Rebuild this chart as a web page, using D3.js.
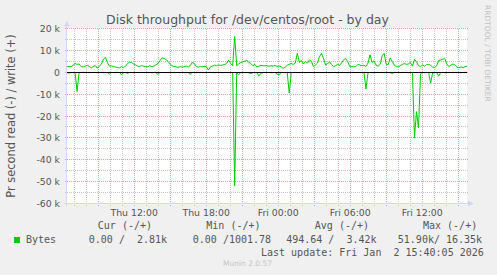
<!DOCTYPE html>
<html><head><meta charset="utf-8">
<script src="https://cdn.jsdelivr.net/npm/d3@7"></script>
<style>
html,body{margin:0;padding:0;background:#f0f0f0;}
svg{display:block;}
text{white-space:pre;}
</style></head><body>
<svg id="c" width="497" height="275"></svg>
<script>
// ---- data (kB/s), one sample per ~10 min over the 33h20m window ----
const writeK = [
2.5,2.6,2.5,3.2,4.0,3.6,3.8,2.6,2.4,2.8,
3.2,2.7,2.0,2.6,3.1,1.8,2.8,3.6,5.8,6.8,
4.5,2.8,2.9,2.6,2.4,2.2,2.0,2.6,2.1,2.8,
4.0,4.6,4.4,3.8,3.3,2.8,2.6,3.1,2.7,2.6,
2.5,3.0,2.6,2.8,3.4,4.0,5.2,6.6,6.3,5.8,
5.0,3.8,3.0,2.6,2.5,2.2,2.6,2.3,2.5,2.8,
2.4,3.0,4.5,4.0,2.6,2.4,2.6,2.5,2.7,2.6,
1.0,2.4,2.8,3.2,3.0,3.4,3.1,3.3,3.6,3.9,
5.6,4.0,3.0,16.35,3.0,3.8,4.4,4.8,5.0,5.4,
4.6,4.0,3.0,3.6,2.4,2.8,3.2,2.9,3.0,3.0,
2.7,3.0,2.8,3.1,2.7,2.9,2.5,1.8,2.3,3.2,
3.6,4.0,3.6,4.2,8.6,4.5,5.4,3.8,5.0,4.2,
5.6,5.0,2.6,3.3,4.2,7.2,8.6,6.2,3.3,4.0,
4.8,3.5,2.6,3.0,3.6,3.2,4.4,5.8,6.2,4.8,
2.6,2.5,2.5,2.6,3.6,3.3,3.0,3.2,2.6,4.2,
8.0,4.5,5.2,3.2,2.8,3.6,7.5,8.6,3.6,3.5,
6.5,5.0,3.2,2.6,2.5,3.0,3.6,4.0,3.6,3.8,
4.5,2.8,5.9,4.8,3.0,2.6,3.4,2.7,3.6,3.6,
3.2,2.4,2.1,3.0,5.4,5.6,6.0,6.2,3.8,2.6,
3.2,3.8,3.3,2.4,2.0,2.5,2.1,2.5,2.81
];
const readK = [
0.1,0.4,0.1,0.1,0.2,8.8,0.1,0.1,0.0,0.1,
0.1,0.2,0.1,0.1,0.1,0.2,0.1,0.1,0.2,0.1,
0.1,0.8,0.1,0.1,0.2,0.1,0.1,1.2,0.1,0.1,
0.5,0.1,0.1,0.2,0.1,0.1,0.1,0.1,0.2,0.1,
0.1,0.1,0.2,0.1,0.1,1.0,0.1,0.1,0.1,0.2,
0.1,0.1,0.1,0.2,0.1,0.1,0.1,0.1,0.2,0.1,
0.1,0.9,0.1,0.1,0.2,0.1,0.1,0.1,0.1,0.2,
0.1,0.1,0.1,0.2,0.1,0.1,0.1,0.2,0.1,0.1,
0.1,0.2,0.1,51.9,0.3,1.2,0.1,0.2,0.1,0.1,
0.2,0.7,0.1,0.1,0.2,1.7,0.5,0.1,0.1,0.1,
0.1,0.2,0.1,0.1,0.8,1.2,0.1,0.1,0.2,0.1,
9.5,0.2,0.1,0.1,0.2,0.1,0.1,0.1,0.2,0.1,
0.1,0.1,0.2,0.1,0.1,0.1,0.2,0.1,0.1,0.1,
0.2,0.1,0.1,0.1,0.2,0.1,0.1,0.1,0.1,0.2,
0.1,0.1,0.1,0.2,0.1,0.1,0.1,0.2,7.7,0.2,
0.1,0.1,0.2,0.1,0.1,0.1,0.2,0.1,0.1,0.1,
0.2,0.6,0.1,0.1,0.1,0.2,0.1,0.1,0.1,0.2,
0.1,0.2,30.0,18.0,25.5,0.8,0.1,0.2,0.1,0.1,
5.0,0.2,0.1,0.1,1.8,0.1,0.1,0.2,0.1,0.1,
0.1,0.2,0.1,0.1,0.1,0.2,0.1,0.1,0.0
];
const yTicks = [20000,10000,0,-10000,-20000,-30000,-40000,-50000,-60000];
const yTickLabels = ["20 k","10 k","0","-10 k","-20 k","-30 k","-40 k","-50 k","-60 k"];
const xTickLabels = ["Thu 12:00","Thu 18:00","Fri 00:00","Fri 06:00","Fri 12:00"];
const legendHeaders = ["Cur (-/+)","Min (-/+)","Avg (-/+)","Max (-/+)"];
const legendName = "Bytes";
const legendCur = "0.00 /  2.81k";
const legendMin = "0.00 /1001.78";
const legendAvg = "494.64 /  3.42k";
const legendMax = "51.90k/ 16.35k";
const titleText = "Disk throughput for /dev/centos/root - by day";
const yTitle = "Pr second read (-) / write (+)";
const lastUpdate = "Last update: Fri Jan  2 15:40:05 2026";

// ---- layout ----
const W=497,H=275;
const X0=67,X1=467,Y0=203.5,Y1=28.5;
const tStart = Date.UTC(2026,0,1,6,24,0);
const tEnd = tStart + 120000*1000;
const step = (tEnd - tStart)/(writeK.length-1);
const times = writeK.map((d,i)=>new Date(tStart + i*step));

const svg = d3.select("#c");
svg.append("rect").attr("width",W).attr("height",H).attr("fill","#f0f0f0");
svg.append("rect").attr("x",X0).attr("y",28).attr("width",X1-X0).attr("height",Y0-28).attr("fill","#ffffff");

const x = d3.scaleUtc().domain([new Date(tStart),new Date(tEnd)]).range([X0,X1]);
const y = d3.scaleLinear().domain([-60000,20000]).range([Y0,Y1]);
const px = v => Math.floor(v)+0.5;

const grid = svg.append("g").attr("shape-rendering","crispEdges").attr("stroke-width",1).attr("stroke-dasharray","1,1");
const GRAY="#c4c4c4", PINK="#e4a0a0";
d3.range(-60000,20001,5000).forEach(v=>{
  const major = v%10000===0;
  if(v===-60000) return;
  grid.append("line").attr("x1",X0-2).attr("x2",X1+2).attr("y1",px(y(v))).attr("y2",px(y(v)))
    .attr("stroke",major?PINK:GRAY);
});
d3.utcHour.range(new Date(tStart),new Date(tEnd)).forEach(t=>{
  const major = t.getUTCHours()%3===0;
  grid.append("line").attr("x1",px(x(t))).attr("x2",px(x(t))).attr("y1",Y0+2).attr("y2",28)
    .attr("stroke",major?PINK:GRAY);
});

const line = d3.line().x((d,i)=>x(times[i])).y(d=>y(d));
svg.append("path").datum(readK.map(v=>-v*1000)).attr("d",line)
  .attr("fill","none").attr("stroke","#00cc00").attr("stroke-width",1);
svg.append("line").attr("x1",X0).attr("x2",X1).attr("y1",px(y(0))).attr("y2",px(y(0)))
  .attr("stroke","#000").attr("stroke-width",1).attr("shape-rendering","crispEdges");
svg.append("path").datum(writeK.map(v=>v*1000)).attr("d",line)
  .attr("fill","none").attr("stroke","#00cc00").attr("stroke-width",1);

const AX="#cfd6f8";
svg.append("line").attr("x1",66.5).attr("x2",66.5).attr("y1",Y0+2).attr("y2",24).attr("stroke",AX).attr("shape-rendering","crispEdges");
svg.append("line").attr("x1",64).attr("x2",470).attr("y1",Y0).attr("y2",Y0).attr("stroke",AX).attr("shape-rendering","crispEdges");
svg.append("path").attr("d","M63.8,26.5L69.7,26.5L66.75,20.8Z").attr("fill",AX);
svg.append("path").attr("d","M468,200.5L468,206.5L473.8,203.5Z").attr("fill",AX);

const FONT="DejaVu Sans", MONO="DejaVu Sans Mono", FC="#555555";
yTicks.forEach((v,i)=>{
  svg.append("text").attr("x",60).attr("y",px(y(v))+3.3).attr("text-anchor","end")
    .attr("font-family",FONT).attr("font-size",9.33).attr("fill",FC).text(yTickLabels[i]);
});
const labelTimes = d3.utcHour.every(6).range(new Date(tStart),new Date(tEnd));
labelTimes.forEach((t,i)=>{
  svg.append("text").attr("x",x(t)).attr("y",216).attr("text-anchor","middle")
    .attr("font-family",FONT).attr("font-size",9.33).attr("fill",FC).text(xTickLabels[i]);
});

svg.append("text").attr("x",247.5).attr("y",23.5).attr("text-anchor","middle")
  .attr("font-family",FONT).attr("font-size",12.5).attr("fill",FC).text(titleText);
svg.append("text").attr("transform","translate(14.5,116) rotate(-90)").attr("text-anchor","middle")
  .attr("font-family",FONT).attr("font-size",11.4).attr("fill",FC).text(yTitle);
svg.append("text").attr("transform","translate(485,5) rotate(90)").attr("text-anchor","start")
  .attr("font-family",FONT).attr("font-size",7.5).attr("fill","#c0c0c0").text("RRDTOOL / TOBI OETIKER");

const hx=[97.8,206.3,314.8,423];
legendHeaders.forEach((h,i)=>{
  svg.append("text").attr("x",hx[i]).attr("y",229).attr("font-family",MONO).attr("font-size",10).attr("fill",FC).text(h);
});
svg.append("rect").attr("x",14).attr("y",237).attr("width",6).attr("height",6).attr("fill","#00cc00");
const mono = (xx,yy,s)=>svg.append("text").attr("x",xx).attr("y",yy).attr("font-family",MONO).attr("font-size",10).attr("fill",FC).text(s);
mono(26,243,legendName);
mono(88.8,243,legendCur);
mono(192.8,243,legendMin);
mono(286.2,243,legendAvg);
mono(397.8,243,legendMax);
mono(261,255.5,lastUpdate);
svg.append("text").attr("x",247.5).attr("y",266).attr("text-anchor","middle").attr("font-family",FONT).attr("font-size",7.5).attr("fill","#c4c4c4").text("Munin 2.0.57");
</script>
</body></html>
